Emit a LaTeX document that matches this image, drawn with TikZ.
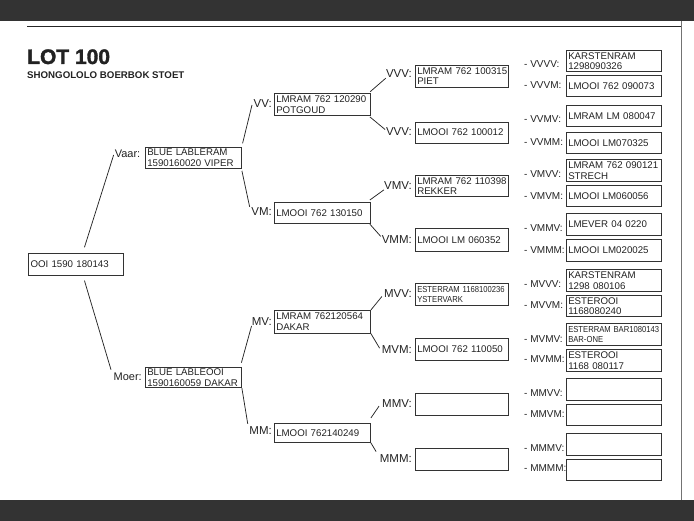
\documentclass[tikz,border=0pt]{standalone}
\usepackage{fontspec}
\setmainfont{Liberation Sans}
\newfontfamily\heavyfont{Liberation Sans}[BoldFeatures={FakeBold=1.6}]
\usepackage{graphicx}
\definecolor{band}{HTML}{333333}
\definecolor{boxc}{HTML}{333333}
\definecolor{txt}{HTML}{222222}
\newcommand{\bxfont}{\fontsize{9.7}{10.6}\selectfont}
\newcommand{\lbfont}{\fontsize{11.5}{12}\selectfont}
\newcommand{\lbgfont}{\fontsize{11}{12}\selectfont}
\newcommand{\lbsfont}{\fontsize{10}{12}\selectfont}
\newcommand{\narrowtxt}[1]{\scalebox{0.88}[1]{\fontsize{8.7}{9.5}\selectfont #1}}
\begin{document}
\begin{tikzpicture}[x=1pt,y=-1pt,
  box/.style={draw=boxc, line width=0.9pt, anchor=north west, inner xsep=1.8pt, inner ysep=0pt,
    align=left, font=\bxfont, text=txt, minimum height=21.5pt},
  g0/.style={box, text width=90.8pt},
  g1/.style={box, text width=92.4pt},
  g2/.style={box, text width=92.4pt},
  g3/.style={box, text width=89.4pt},
  g4/.style={box, text width=91.4pt, minimum height=21.3pt},
  lb/.style={inner sep=0pt, font=\lbfont, text=txt, anchor=east},
  lbg/.style={inner sep=0pt, font=\lbgfont, text=txt, anchor=east},
  lb4/.style={inner sep=0pt, font=\lbsfont, text=txt, anchor=west},
  conn/.style={line width=0.75pt, draw=black!85}]
\useasboundingbox (0,0) rectangle (694,521);
\fill[band] (0,0) rectangle (694,21.5);
\fill[band] (0,500) rectangle (694,521);
\draw[line width=1.1pt, black!85] (27,26.3) -- (681.5,26.3);
\draw[line width=0.6pt, black!55] (681.5,21.5) -- (681.5,500);

\node[anchor=base west, inner sep=0pt, font=\fontsize{21}{21}\selectfont\heavyfont\bfseries, text=txt] (title) at (27,64) {LOT 100};
\node[anchor=base west, inner sep=0pt, font=\fontsize{9.7}{10}\selectfont\bfseries, text=txt] (sub) at (27,78.3) {SHONGOLOLO BOERBOK STOET};

% generation 0 and 1
\node[g0, minimum height=21.4pt] (root) at (28.3,253.3) {OOI 1590 180143};
\node[g1] (vaar) at (145,146.7) {\mbox{BLUE LABLERAM}\\\mbox{1590160020 VIPER}};
\node[g1, minimum height=20.6pt] (moer) at (145,366.7) {\mbox{BLUE LABLEOOI}\\\mbox{1590160059 DAKAR}};
\node[lbg] (vaarl) at (140.5,154) {Vaar:};
\node[lbg] (moerl) at (142,376.7) {Moer:};

% generation 2
\node[g2, minimum height=21.7pt] (vv) at (274,93.3) {\mbox{LMRAM 762 120290}\\POTGOUD};
\node[g2, minimum height=21.6pt] (vm) at (274,201.7) {\mbox{LMOOI 762 130150}};
\node[g2, minimum height=22.7pt] (mv) at (274,310) {\mbox{LMRAM 762120564}\\DAKAR};
\node[g2, minimum height=19pt] (mm) at (274,423) {\mbox{LMOOI 762140249}};
\node[lb] (vvl) at (272,103.3) {VV:};
\node[lb] (vml) at (272,212) {VM:};
\node[lb] (mvl) at (272,321.7) {MV:};
\node[lb] (mml) at (272,431) {MM:};

% generation 3
\node[g3, minimum height=21.7pt] (vvv) at (415,65) {\mbox{LMRAM 762 100315}\\PIET};
\node[g3, minimum height=21pt] (vvm) at (415,121.7) {\mbox{LMOOI 762 100012}};
\node[g3, minimum height=21pt] (vmv) at (415,175) {\mbox{LMRAM 762 110398}\\REKKER};
\node[g3, minimum height=22.4pt] (vmm) at (415,228.3) {\mbox{LMOOI LM 060352}};
\node[g3, minimum height=21.7pt] (mvv) at (415,283.3) {\narrowtxt{ESTERRAM 1168100236}\\\narrowtxt{YSTERVARK}};
\node[g3, minimum height=21.7pt] (mvm) at (415,338.3) {\mbox{LMOOI 762 110050}};
\node[g3, minimum height=21.7pt] (mmv) at (415,393.3) {};
\node[g3, minimum height=21.7pt] (mmm) at (415,448.3) {};
\node[lb] (vvvl) at (412,74) {VVV:};
\node[lb] (vvml) at (412,131.7) {VVV:};
\node[lb] (vmvl) at (412,185.7) {VMV:};
\node[lb] (vmml) at (412,239.3) {VMM:};
\node[lb] (mvvl) at (412,293.3) {MVV:};
\node[lb] (mvml) at (412,349.3) {MVM:};
\node[lb] (mmvl) at (412,404) {MMV:};
\node[lb] (mmml) at (412,458.3) {MMM:};

% generation 4
\node[g4] (vvvv) at (566,50) {KARSTENRAM\\1298090326};
\node[g4] (vvvm) at (566,75) {\mbox{LMOOI 762 090073}};
\node[g4] (vvmv) at (566,105) {\mbox{LMRAM LM 080047}};
\node[g4] (vvmm) at (566,131.7) {\mbox{LMOOI LM070325}};
\node[g4] (vmvv) at (566,159.3) {\mbox{LMRAM 762 090121}\\STRECH};
\node[g4] (vmvm) at (566,185) {\mbox{LMOOI LM060056}};
\node[g4] (vmmv) at (566,213.3) {\mbox{LMEVER 04 0220}};
\node[g4] (vmmm) at (566,239.3) {\mbox{LMOOI LM020025}};
\node[g4] (mvvv) at (566,269.3) {KARSTENRAM\\\mbox{1298 080106}};
\node[g4] (mvvm) at (566,295) {ESTEROOI\\1168080240};
\node[g4] (mvmv) at (566,323.3) {\narrowtxt{ESTERRAM BAR1080143}\\\narrowtxt{BAR-ONE}};
\node[g4] (mvmm) at (566,349.3) {ESTEROOI\\\mbox{1168 080117}};
\node[g4] (mmvv) at (566,378.3) {};
\node[g4] (mmvm) at (566,404) {};
\node[g4] (mmmv) at (566,433.3) {};
\node[g4] (mmmm) at (566,459) {};
\node[lb4] (vvvvl) at (524,64) {- VVVV:};
\node[lb4] (vvvml) at (524,85) {- VVVM:};
\node[lb4] (vvmvl) at (524,119.3) {- VVMV:};
\node[lb4] (vvmml) at (524,142.3) {- VVMM:};
\node[lb4] (vmvvl) at (524,174.3) {- VMVV:};
\node[lb4] (vmvml) at (524,195.7) {- VMVM:};
\node[lb4] (vmmvl) at (524,228.3) {- VMMV:};
\node[lb4] (vmmml) at (524,250) {- VMMM:};
\node[lb4] (mvvvl) at (524,284.3) {- MVVV:};
\node[lb4] (mvvml) at (524,305) {- MVVM:};
\node[lb4] (mvmvl) at (524,339) {- MVMV:};
\node[lb4] (mvmml) at (524,359.3) {- MVMM:};
\node[lb4] (mmvvl) at (524,392.7) {- MMVV:};
\node[lb4] (mmvml) at (524,414) {- MMVM:};
\node[lb4] (mmmvl) at (524,447.7) {- MMMV:};
\node[lb4] (mmmml) at (524,468.3) {- MMMM:};

% connectors
\draw[conn] ([shift={(8.5,-6)}]root.north) -- ([shift={(-1,1)}]vaarl.west);
\draw[conn] ([shift={(8.5,5)}]root.south) -- ([shift={(-2.5,-3)}]moerl.north west);
\draw[conn] ([shift={(0.7,-3.4)}]vaar.north east) -- ([shift={(-1.5,1.7)}]vvl.west);
\draw[conn] ([shift={(0,1.7)}]vaar.south east) -- ([shift={(-1.5,-1)}]vml.north west);
\draw[conn] ([shift={(-0.5,-4)}]moer.north east) -- (mvl.south west);
\draw[conn] (moer.south east) -- ([shift={(-1.5,-3)}]mml.north west);
\draw[conn] ([shift={(-0.7,-1.6)}]vv.north east) -- (vvvl.south west);
\draw[conn] ([shift={(-1,1)}]vv.south east) -- ([shift={(-0.7,2)}]vvml.north west);
\draw[conn] ([shift={(-1,-1.7)}]vm.north east) -- (vmvl.south west);
\draw[conn] ([shift={(-1,0)}]vm.south east) -- ([shift={(-0.8,1.3)}]vmml.north west);
\draw[conn] (mv.north east) -- ([shift={(-2,-1)}]mvvl.south west);
\draw[conn] (mv.south east) -- ([shift={(-2,3)}]mvml.north west);
\draw[conn] ([shift={(0,-5)}]mm.north east) -- ([shift={(-3,-2)}]mmvl.south west);
\draw[conn] (mm.south east) -- ([shift={(-3.5,-2.5)}]mmml.north west);
\end{tikzpicture}
\end{document}
